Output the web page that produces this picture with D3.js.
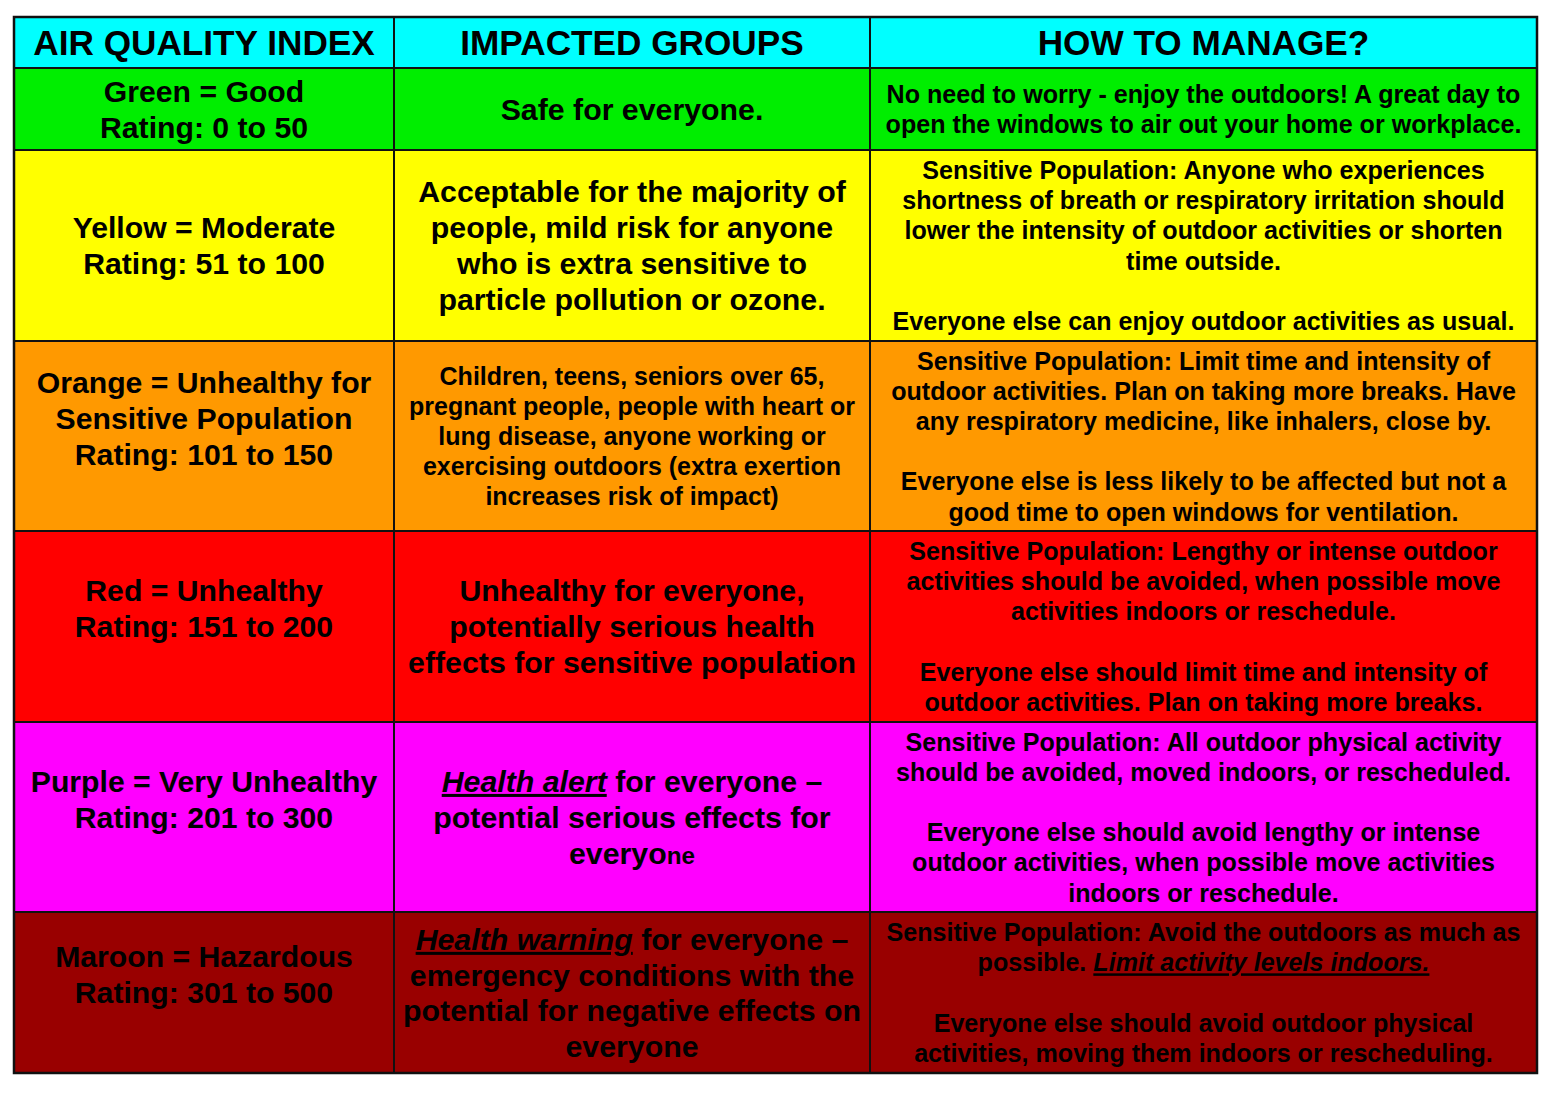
<!DOCTYPE html>
<html>
<head>
<meta charset="utf-8">
<script src="https://cdn.jsdelivr.net/npm/d3@7"></script>
<style>
  html, body { margin: 0; padding: 0; background: #fff; }
  svg { display: block; font-family: Arial, "Liberation Sans", sans-serif; font-weight: bold; }
</style>
</head>
<body>
<div id="aqiChart"></div>
<script>
// column titles
var headers = ["AIR QUALITY INDEX", "IMPACTED GROUPS", "HOW TO MANAGE?"];

// AQI levels
var levels = ["Good", "Moderate", "USG", "Unhealthy", "Very Unhealthy", "Hazardous"];
var levelLabels = [
  ["Green = Good"],
  ["Yellow = Moderate"],
  ["Orange = Unhealthy for", "Sensitive Population"],
  ["Red = Unhealthy"],
  ["Purple = Very Unhealthy"],
  ["Maroon = Hazardous"]
];
var ratingLow  = [0, 51, 101, 151, 201, 301];
var ratingHigh = [50, 100, 150, 200, 300, 500];

// _text_ = italic underlined, ~text~ = smaller
var impacted = [
  ["Safe for everyone."],
  ["Acceptable for the majority of", "people, mild risk for anyone", "who is extra sensitive to", "particle pollution or ozone."],
  ["Children, teens, seniors over 65,", "pregnant people, people with heart or", "lung disease, anyone working or", "exercising outdoors (extra exertion", "increases risk of impact)"],
  ["Unhealthy for everyone,", "potentially serious health", "effects for sensitive population"],
  ["_Health alert_ for everyone \u2013", "potential serious effects for", "everyo~ne~"],
  ["_Health warning_ for everyone \u2013", "emergency conditions with the", "potential for negative effects on", "everyone"]
];

var manage = [
  ["No need to worry - enjoy the outdoors! A great day to", "open the windows to air out your home or workplace."],
  ["Sensitive Population: Anyone who experiences", "shortness of breath or respiratory irritation should", "lower the intensity of outdoor activities or shorten", "time outside.", "", "Everyone else can enjoy outdoor activities as usual."],
  ["Sensitive Population: Limit time and intensity of", "outdoor activities. Plan on taking more breaks. Have", "any respiratory medicine, like inhalers, close by.", "", "Everyone else is less likely to be affected but not a", "good time to open windows for ventilation."],
  ["Sensitive Population: Lengthy or intense outdoor", "activities should be avoided, when possible move", "activities indoors or reschedule.", "", "Everyone else should limit time and intensity of", "outdoor activities. Plan on taking more breaks."],
  ["Sensitive Population: All outdoor physical activity", "should be avoided, moved indoors, or rescheduled.", "", "Everyone else should avoid lengthy or intense", "outdoor activities, when possible move activities", "indoors or reschedule."],
  ["Sensitive Population: Avoid the outdoors as much as", "possible. _Limit activity levels indoors._", "", "Everyone else should avoid outdoor physical", "activities, moving them indoors or rescheduling."]
];

var w = 1554, h = 1096;

// layout
var colEdges = [14, 394, 870, 1537];
var rowEdges = [17, 68, 150, 341, 531, 722, 912, 1073];

var fill = d3.scaleOrdinal()
  .domain(levels)
  .range(["#00ee00", "#ffff00", "#ff9900", "#ff0000", "#ff00ff", "#990000"]);

var rowTop = d3.scaleOrdinal().domain(["header"].concat(levels)).range(rowEdges.slice(0, -1));
var rowBot = d3.scaleOrdinal().domain(["header"].concat(levels)).range(rowEdges.slice(1));

var svg = d3.select("#aqiChart")
  .append("svg")
  .attr("width", w)
  .attr("height", h);

// build cells
var cells = [];
headers.forEach(function(t, c) {
  cells.push({ row: "header", col: c, bg: "#00ffff", lines: [t], size: 35.2, lh: 36 });
});
levels.forEach(function(lv, i) {
  var first = levelLabels[i].concat(["Rating: " + ratingLow[i] + " to " + ratingHigh[i]]);
  if (i >= 2) first.push("");
  cells.push({ row: lv, col: 0, bg: fill(lv), lines: first, size: 30.2, lh: 36 });
  cells.push({ row: lv, col: 1, bg: fill(lv), lines: impacted[i], size: i == 2 ? 25 : 30.3, lh: i == 2 ? 30 : (i == 5 ? 35.7 : 36) });
  cells.push({ row: lv, col: 2, bg: fill(lv), lines: manage[i], size: 25.1, lh: 30.2 });
});

var g = svg.selectAll("g.cell")
  .data(cells)
  .enter()
  .append("g")
  .attr("class", "cell");

g.append("rect")
  .attr("x", function(d) { return colEdges[d.col]; })
  .attr("y", function(d) { return rowTop(d.row); })
  .attr("width", function(d) { return colEdges[d.col + 1] - colEdges[d.col]; })
  .attr("height", function(d) { return rowBot(d.row) - rowTop(d.row); })
  .attr("fill", function(d) { return d.bg; })
  .attr("stroke", "#111")
  .attr("stroke-width", 2);

g.each(function(d) {
  var cx = (colEdges[d.col] + colEdges[d.col + 1]) / 2;
  var cy = (rowTop(d.row) + rowBot(d.row)) / 2;
  var y0 = cy - (d.lines.length - 1) * d.lh / 2;
  var text = d3.select(this).append("text")
    .attr("text-anchor", "middle")
    .attr("font-size", d.size)
    .attr("fill", "#000");
  d.lines.forEach(function(line, k) {
    if (line === "") return;
    var lineT = text.append("tspan")
      .attr("x", cx)
      .attr("y", y0 + k * d.lh)
      .attr("dy", "0.36em");
    line.split(/(_[^_]+_|~[^~]+~)/).forEach(function(part) {
      if (!part) return;
      var s = lineT.append("tspan");
      if (part[0] == "_") {
        s.text(part.slice(1, -1))
          .attr("font-style", "italic")
          .attr("text-decoration", "underline");
      } else if (part[0] == "~") {
        s.text(part.slice(1, -1)).attr("font-size", d.size * 0.8);
      } else {
        s.text(part);
      }
    });
  });
});

// outer border
svg.append("rect")
  .attr("x", colEdges[0])
  .attr("y", rowEdges[0])
  .attr("width", colEdges[3] - colEdges[0])
  .attr("height", rowEdges[rowEdges.length - 1] - rowEdges[0])
  .attr("fill", "none")
  .attr("stroke", "#111")
  .attr("stroke-width", 2.5);
</script>
</body>
</html>
